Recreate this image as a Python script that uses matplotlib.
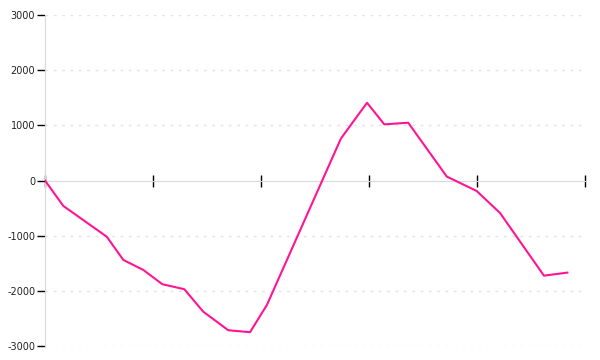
import matplotlib
matplotlib.use('Agg')
from matplotlib import pyplot as plt

# x positions (tick every 6 units)
x = [0, 1.02, 3.43, 4.35, 5.46, 6.52, 7.74, 8.79, 10.18, 11.39,
     12.33, 16.44, 17.89, 18.85, 20.18, 22.32, 23.98, 25.28, 27.72, 29.02]
y = [0, -462, -1018, -1440, -1621, -1880, -1971, -2377, -2714, -2750,
     -2255, 761, 1409, 1018, 1047, 72, -190, -589, -1725, -1670]

x_ticks = [0, 6, 12, 18, 24, 30]
y_ticks = [-3000, -2000, -1000, 0, 1000, 2000, 3000]


def plot():
    fig = plt.figure(figsize=(6, 3.6), dpi=100)
    ax = fig.add_axes([0.075, 0.0389, 0.9, 0.9194])

    for v in y_ticks:
        if v != 0:
            ax.axhline(v, color='#e3e3e3', lw=1, ls=(0, (2, 4)), zorder=0)

    ax.plot(x, y, color='#ff1493', lw=1.5, zorder=3)

    ax.set_xlim(0, 30)
    ax.set_ylim(-3000, 3000)
    ax.set_xticks(x_ticks)
    ax.set_xticklabels([])
    ax.set_yticks(y_ticks)
    ax.set_yticklabels([str(v) for v in y_ticks], fontsize=7, color='#222222')

    ax.spines['top'].set_visible(False)
    ax.spines['right'].set_visible(False)
    ax.spines['bottom'].set_position(('data', 0))
    ax.spines['bottom'].set_color('#d9d9d9')
    ax.spines['left'].set_color('#d9d9d9')

    ax.tick_params(axis='x', direction='inout', length=8, width=1, color='black')
    ax.tick_params(axis='y', direction='out', length=6, width=1, color='black', pad=1)

    fig.savefig('out.png', dpi=100)


plot()
